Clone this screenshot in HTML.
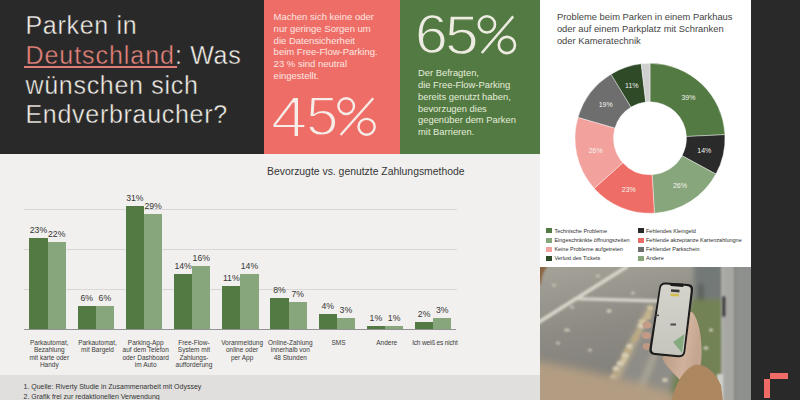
<!DOCTYPE html>
<html><head><meta charset="utf-8"><style>
*{margin:0;padding:0;box-sizing:border-box}
html,body{width:800px;height:400px;overflow:hidden;background:#f1f0ee;font-family:"Liberation Sans",sans-serif}
.abs{position:absolute}
.bar{position:absolute}
.val{position:absolute;font-size:8.7px;line-height:10px;color:#353535;text-align:center;white-space:nowrap}
.cat{position:absolute;top:339.1px;font-size:6.5px;line-height:7.25px;color:#3a3a3a;text-align:center;white-space:nowrap}
.grid{position:absolute;left:24px;width:433px;height:1px;background:#d9d8d6}
.leg{position:absolute;font-size:5.5px;line-height:7px;color:#2e2e2e;white-space:nowrap}
.sq{position:absolute;width:5.7px;height:5.2px}
</style></head><body>
<div class="abs" style="left:0;top:0;width:264px;height:154px;background:#292929"></div>
<div class="abs" style="left:264px;top:0;width:136px;height:154px;background:#ee6e67"></div>
<div class="abs" style="left:400px;top:0;width:140px;height:154px;background:#527a42"></div>
<div class="abs" style="left:0;top:375px;width:540px;height:25px;background:#e0dfde"></div>
<div class="abs" style="left:540px;top:0;width:211px;height:267px;background:#fff"></div>
<div class="abs" style="left:751px;top:0;width:49px;height:400px;background:#292929"></div>

<!-- title -->
<div class="abs" style="left:25.5px;top:11.3px;font-size:25px;line-height:29.7px;letter-spacing:0.7px;color:#f3efe8;-webkit-text-stroke:0.4px #292929;white-space:nowrap">Parken in<br><span style="color:#e8847c;letter-spacing:0.95px">Deutschland</span>: Was<br>wünschen sich<br>Endverbraucher?</div>

<div class="abs" style="left:24px;top:66.3px;width:153px;height:1.5px;background:#df7f78"></div>
<!-- red panel -->
<div class="abs" style="left:273.6px;top:11px;font-size:9.5px;line-height:11.8px;color:#fde6e1;white-space:nowrap">Machen sich keine oder<br>nur geringe Sorgen um<br>die Datensicherheit<br>beim Free-Flow-Parking.<br>23 % sind neutral<br>eingestellt.</div>
<div class="abs" style="left:271.30px;top:87.68px;font-size:58.24px;line-height:58.24px;color:#f6ece8;-webkit-text-stroke:1.8px #ee6e67;transform:scaleX(1.118);transform-origin:0 0">4</div><div class="abs" style="left:305.87px;top:88.19px;font-size:56.29px;line-height:56.29px;color:#f6ece8;-webkit-text-stroke:1.8px #ee6e67;transform:scaleX(1.036);transform-origin:0 0">5</div>

<svg class="abs" style="left:0;top:0" width="540" height="154" viewBox="0 0 540 154">
<g fill="none" stroke="#f6ece8">
<ellipse cx="346.2" cy="106.1" rx="7.8" ry="7.9" stroke-width="2.4"/>
<ellipse cx="366.6" cy="126.8" rx="8.1" ry="7.9" stroke-width="2.4"/>
<line x1="373.2" y1="98.2" x2="340.6" y2="135" stroke-width="2.3"/>
</g>
<g fill="none" stroke="#eeece2">
<ellipse cx="486.9" cy="24.4" rx="8.1" ry="8.1" stroke-width="2.6"/>
<ellipse cx="506.9" cy="45" rx="8.1" ry="8.1" stroke-width="2.6"/>
<line x1="513.2" y1="16.4" x2="481.8" y2="53" stroke-width="2.5"/>
</g>
</svg>
<!-- green panel -->
<div class="abs" style="left:414.51px;top:6.35px;font-size:56.34px;line-height:56.34px;color:#eeece2;-webkit-text-stroke:1.3px #527a42;transform:scaleX(1.044);transform-origin:0 0">6</div><div class="abs" style="left:444.58px;top:6.76px;font-size:55.86px;line-height:55.86px;color:#eeece2;-webkit-text-stroke:1.3px #527a42;transform:scaleX(1.082);transform-origin:0 0">5</div>
<div class="abs" style="left:418px;top:66.8px;font-size:9.4px;line-height:11.9px;color:#e6eddc;white-space:nowrap">Der Befragten,<br>die Free-Flow-Parking<br>bereits genutzt haben,<br>bevorzugen dies<br>gegenüber dem Parken<br>mit Barrieren.</div>

<!-- bar chart -->
<div class="abs" style="left:267px;top:165.8px;font-size:10.4px;line-height:12px;color:#363636;white-space:nowrap">Bevorzugte vs. genutzte Zahlungsmethode</div>
<div class="grid" style="top:209px"></div>
<div class="grid" style="top:249px"></div>
<div class="grid" style="top:289px"></div>
<div class="bar" style="left:29.40px;top:237.50px;width:18.2px;height:92px;background:#527a42"></div><div class="val" style="left:19.40px;top:224.53px;width:38.2px">23%</div><div class="bar" style="left:47.60px;top:241.50px;width:18.2px;height:88px;background:#88a67b"></div><div class="val" style="left:37.60px;top:228.53px;width:38.2px">22%</div><div class="cat" style="left:25.20px;width:48.2px">Parkautomat,<br>Bezahlung<br>mit karte oder<br>Handy</div><div class="bar" style="left:77.60px;top:305.50px;width:18.2px;height:24px;background:#527a42"></div><div class="val" style="left:67.60px;top:292.53px;width:38.2px">6%</div><div class="bar" style="left:95.80px;top:305.50px;width:18.2px;height:24px;background:#88a67b"></div><div class="val" style="left:85.80px;top:292.53px;width:38.2px">6%</div><div class="cat" style="left:73.40px;width:48.2px">Parkautomat,<br>mit Bargeld</div><div class="bar" style="left:125.80px;top:205.50px;width:18.2px;height:124px;background:#527a42"></div><div class="val" style="left:115.80px;top:192.53px;width:38.2px">31%</div><div class="bar" style="left:144.00px;top:213.50px;width:18.2px;height:116px;background:#88a67b"></div><div class="val" style="left:134.00px;top:200.53px;width:38.2px">29%</div><div class="cat" style="left:121.60px;width:48.2px">Parking-App<br>auf dem Telefon<br>oder Dashboard<br>im Auto</div><div class="bar" style="left:174.00px;top:273.50px;width:18.2px;height:56px;background:#527a42"></div><div class="val" style="left:164.00px;top:260.53px;width:38.2px">14%</div><div class="bar" style="left:192.20px;top:265.50px;width:18.2px;height:64px;background:#88a67b"></div><div class="val" style="left:182.20px;top:252.53px;width:38.2px">16%</div><div class="cat" style="left:169.80px;width:48.2px">Free-Flow-<br>System mit<br>Zahlungs-<br>aufforderung</div><div class="bar" style="left:222.20px;top:285.50px;width:18.2px;height:44px;background:#527a42"></div><div class="val" style="left:212.20px;top:272.53px;width:38.2px">11%</div><div class="bar" style="left:240.40px;top:273.50px;width:18.2px;height:56px;background:#88a67b"></div><div class="val" style="left:230.40px;top:260.53px;width:38.2px">14%</div><div class="cat" style="left:218.00px;width:48.2px">Voranmeldung<br>online oder<br>per App</div><div class="bar" style="left:270.40px;top:297.50px;width:18.2px;height:32px;background:#527a42"></div><div class="val" style="left:260.40px;top:284.53px;width:38.2px">8%</div><div class="bar" style="left:288.60px;top:301.50px;width:18.2px;height:28px;background:#88a67b"></div><div class="val" style="left:278.60px;top:288.53px;width:38.2px">7%</div><div class="cat" style="left:266.20px;width:48.2px">Online-Zahlung<br>innerhalb von<br>48 Stunden</div><div class="bar" style="left:318.60px;top:313.50px;width:18.2px;height:16px;background:#527a42"></div><div class="val" style="left:308.60px;top:300.53px;width:38.2px">4%</div><div class="bar" style="left:336.80px;top:317.50px;width:18.2px;height:12px;background:#88a67b"></div><div class="val" style="left:326.80px;top:304.53px;width:38.2px">3%</div><div class="cat" style="left:314.40px;width:48.2px">SMS</div><div class="bar" style="left:366.80px;top:325.50px;width:18.2px;height:4px;background:#527a42"></div><div class="val" style="left:356.80px;top:312.53px;width:38.2px">1%</div><div class="bar" style="left:385.00px;top:325.50px;width:18.2px;height:4px;background:#88a67b"></div><div class="val" style="left:375.00px;top:312.53px;width:38.2px">1%</div><div class="cat" style="left:362.60px;width:48.2px">Andere</div><div class="bar" style="left:415.00px;top:321.50px;width:18.2px;height:8px;background:#527a42"></div><div class="val" style="left:405.00px;top:308.53px;width:38.2px">2%</div><div class="bar" style="left:433.20px;top:317.50px;width:18.2px;height:12px;background:#88a67b"></div><div class="val" style="left:423.20px;top:304.53px;width:38.2px">3%</div><div class="cat" style="left:410.80px;width:48.2px;letter-spacing:-0.17px">Ich weiß es nicht</div>
<div class="abs" style="left:24px;top:329px;width:432px;height:1.2px;background:#939393"></div>

<!-- footer -->
<div class="abs" style="left:23.5px;top:382.2px;font-size:7px;line-height:9.7px;color:#333;white-space:nowrap">1. Quelle: Riverty Studie in Zusammenarbeit mit Odyssey<br>2. Grafik frei zur redaktionellen Verwendung</div>

<!-- donut card -->
<div class="abs" style="left:556.9px;top:11px;font-size:9.4px;line-height:11.75px;color:#444;white-space:nowrap">Probleme beim Parken in einem Parkhaus<br>oder auf einem Parkplatz mit Schranken<br>oder Kameratechnik</div>
<svg class="abs" style="left:0;top:0" width="800" height="400" viewBox="0 0 800 400">
<g font-family="Liberation Sans" font-size="7" fill="#f2f2ee">
<path d="M650.00,63.30 A75,75 0 0 1 724.91,134.64 L686.46,136.52 A36.5,36.5 0 0 0 650.00,101.80 Z" fill="#527a42" stroke="#fff" stroke-width="0.4"/>
<text x="688.45" y="100.43" text-anchor="middle">39%</text>
<path d="M724.91,134.64 A75,75 0 0 1 715.91,174.10 L682.07,155.72 A36.5,36.5 0 0 0 686.46,136.52 Z" fill="#2a2a2a" stroke="#fff" stroke-width="0.4"/>
<text x="704.35" y="153.21" text-anchor="middle">14%</text>
<path d="M715.91,174.10 A75,75 0 0 1 654.39,213.17 L652.14,174.74 A36.5,36.5 0 0 0 682.07,155.72 Z" fill="#88a67b" stroke="#fff" stroke-width="0.4"/>
<text x="679.89" y="187.86" text-anchor="middle">26%</text>
<path d="M654.39,213.17 A75,75 0 0 1 594.20,188.41 L622.84,162.69 A36.5,36.5 0 0 0 652.14,174.74 Z" fill="#ee6e67" stroke="#fff" stroke-width="0.4"/>
<text x="628.79" y="192.36" text-anchor="middle">23%</text>
<path d="M594.20,188.41 A75,75 0 0 1 577.98,117.36 L614.95,128.11 A36.5,36.5 0 0 0 622.84,162.69 Z" fill="#f2a19c" stroke="#fff" stroke-width="0.4"/>
<text x="595.65" y="153.21" text-anchor="middle">26%</text>
<path d="M577.98,117.36 A75,75 0 0 1 611.03,74.22 L631.04,107.11 A36.5,36.5 0 0 0 614.95,128.11 Z" fill="#6e6e6e" stroke="#fff" stroke-width="0.4"/>
<text x="605.74" y="106.90" text-anchor="middle">19%</text>
<path d="M611.03,74.22 A75,75 0 0 1 641.24,63.81 L645.74,102.05 A36.5,36.5 0 0 0 631.04,107.11 Z" fill="#2f4a27" stroke="#fff" stroke-width="0.4"/>
<text x="631.84" y="88.09" text-anchor="middle">11%</text>
<path d="M641.24,63.81 A75,75 0 0 1 650.00,63.30 L650.00,101.80 A36.5,36.5 0 0 0 645.74,102.05 Z" fill="#cfcfcf" stroke="#fff" stroke-width="0.4"/>
</g>
</svg>
<!-- legend -->
<div class="sq" style="left:546.2px;top:228px;background:#527a42"></div>
<div class="sq" style="left:546.2px;top:237.5px;background:#88a67b"></div>
<div class="sq" style="left:546.2px;top:246.6px;background:#f2a19c"></div>
<div class="sq" style="left:546.2px;top:255.6px;background:#2f4a27"></div>
<div class="sq" style="left:638.2px;top:228px;background:#2a2a2a"></div>
<div class="sq" style="left:638.2px;top:237.5px;background:#ee6e67"></div>
<div class="sq" style="left:638.2px;top:246.6px;background:#6e6e6e"></div>
<div class="sq" style="left:638.2px;top:255.6px;background:#88a67b"></div>
<div class="leg" style="left:554.4px;top:227.6px">Technische Probleme</div>
<div class="leg" style="left:554.4px;top:237.1px">Eingeschränkte öffnungszeiten</div>
<div class="leg" style="left:554.4px;top:246.2px">Keine Probleme aufgetreten</div>
<div class="leg" style="left:554.4px;top:255.2px">Verlust des Tickets</div>
<div class="leg" style="left:646px;top:227.6px">Fehlendes Kleingeld</div>
<div class="leg" style="left:646px;top:237.1px">Fehlende akzeptanze Kartenzahlungne</div>
<div class="leg" style="left:646px;top:246.2px">Fehlender Parkschein</div>
<div class="leg" style="left:646px;top:255.2px">Andere</div>

<!-- photo -->
<svg class="abs" style="left:540px;top:267px" width="211" height="133" viewBox="540 267 211 133">
<defs>
<filter id="b1" x="-20%" y="-20%" width="140%" height="140%"><feGaussianBlur stdDeviation="2.5"/></filter>
<filter id="b4" x="-30%" y="-30%" width="160%" height="160%"><feGaussianBlur stdDeviation="4"/></filter>
<filter id="b2" x="-20%" y="-20%" width="140%" height="140%"><feGaussianBlur stdDeviation="1.1"/></filter>
<filter id="b3" x="-50%" y="-50%" width="200%" height="200%"><feGaussianBlur stdDeviation="0.5"/></filter>
<linearGradient id="skin" x1="0" y1="0" x2="1" y2="0.3"><stop offset="0" stop-color="#b39480"/><stop offset="0.7" stop-color="#d0b29c"/><stop offset="1" stop-color="#c4a58f"/></linearGradient>
<linearGradient id="scr" x1="0" y1="0" x2="0" y2="1"><stop offset="0" stop-color="#d5d4cc"/><stop offset="1" stop-color="#c6c5bd"/></linearGradient>
<linearGradient id="asph" x1="0" y1="0" x2="0.3" y2="1"><stop offset="0" stop-color="#a5a299"/><stop offset="0.5" stop-color="#8c8a83"/><stop offset="1" stop-color="#7f7d77"/></linearGradient>
</defs>
<rect x="540" y="267" width="211" height="133" fill="url(#asph)"/>
<g filter="url(#b1)">
<polygon points="655,292 692,292 676,400 612,400" fill="#8f8d87"/>
<polygon points="692,298 724,298 724,400 668,400" fill="#728254"/>
<rect x="694" y="262" width="30" height="37" fill="#737977"/>
<rect x="699" y="284" width="4" height="16" fill="#4e524e"/>

<polygon points="662,330 667,330 640,400 632,400" fill="#a9a596"/>
<polygon points="649,305 654,305 618,382 609,382" fill="#b9ad90"/>
</g>
<g filter="url(#b2)">
<rect x="721" y="262" width="35" height="145" fill="#8e908d"/>
<rect x="721" y="262" width="14" height="145" fill="#a7a8a4"/>
<rect x="721" y="262" width="3" height="145" fill="#adaea9"/>
<rect x="734" y="262" width="1.5" height="145" fill="#7e807d"/>
<line x1="628" y1="266" x2="536" y2="324" stroke="#d9d5cb" stroke-width="3.8"/>
<line x1="574" y1="298.7" x2="660" y2="301" stroke="#d6d2c8" stroke-width="3.3"/>
<rect x="722" y="296" width="3.5" height="21" rx="1.5" fill="#333"/>
<rect x="717" y="374" width="6" height="30" fill="#cfd0cc"/>
<ellipse cx="554" cy="285" rx="2" ry="1.5" fill="#c9c3b5"/>
<ellipse cx="598" cy="276" rx="2" ry="1.5" fill="#c9c3b5"/>
<ellipse cx="609" cy="311" rx="2.5" ry="2" fill="#cfc8b8"/>
<ellipse cx="572" cy="307" rx="2" ry="1.5" fill="#c9c3b5"/>
<ellipse cx="567" cy="330" rx="3" ry="1.5" fill="#cdc5b4"/>
<ellipse cx="633" cy="293" rx="2" ry="1.5" fill="#c9c3b5"/>
<ellipse cx="558" cy="343" rx="2" ry="1.5" fill="#c9c3b5"/>
<ellipse cx="590" cy="350" rx="2" ry="1.5" fill="#c9c3b5"/>
<ellipse cx="711" cy="330" rx="2" ry="1.5" fill="#d5d2c0"/>
<ellipse cx="706" cy="348" rx="2.5" ry="1.5" fill="#d5d2c0"/>
<ellipse cx="665" cy="380" rx="3" ry="2" fill="#d0c8b2"/>
</g>
<g filter="url(#b2)"><ellipse cx="650.2" cy="308.1" rx="3.1" ry="2.6" fill="#cfc19c"/><ellipse cx="648.7" cy="313.5" rx="3.2" ry="2.6" fill="#c4b48c"/><ellipse cx="647.3" cy="317.3" rx="3.8" ry="2.5" fill="#c4b48c"/><ellipse cx="642.4" cy="321.3" rx="3.9" ry="2.4" fill="#cfc19c"/><ellipse cx="641.1" cy="325.8" rx="3.6" ry="2.6" fill="#d6cbb0"/><ellipse cx="638.8" cy="332.0" rx="2.9" ry="2.6" fill="#bba982"/><ellipse cx="636.0" cy="336.8" rx="3.1" ry="2.8" fill="#bba982"/><ellipse cx="634.2" cy="339.9" rx="3.0" ry="2.0" fill="#bba982"/><ellipse cx="629.4" cy="346.3" rx="3.2" ry="2.6" fill="#d6cbb0"/><ellipse cx="627.4" cy="350.7" rx="3.4" ry="2.5" fill="#bba982"/><ellipse cx="625.3" cy="355.5" rx="3.5" ry="2.9" fill="#d6cbb0"/><ellipse cx="623.9" cy="359.7" rx="2.7" ry="2.9" fill="#cfc19c"/><ellipse cx="620.4" cy="363.4" rx="3.7" ry="2.6" fill="#d6cbb0"/><ellipse cx="616.1" cy="368.6" rx="3.5" ry="2.5" fill="#d6cbb0"/><ellipse cx="615.5" cy="373.2" rx="2.7" ry="2.3" fill="#bba982"/><ellipse cx="613.1" cy="377.1" rx="3.4" ry="2.0" fill="#d6cbb0"/></g>
<g filter="url(#b2)"><path d="M538,265 L549,265 C544,269 542,275 541,284 L538,284 Z" fill="#8a6440"/></g>
<g filter="url(#b4)">
<path d="M525,359 C575,367 625,379 670,392 L690,410 L525,410 Z" fill="#b29d82"/>

</g>
<g filter="url(#b3)">
<path d="M662,358 C672,350 680,338 686,320 C687,313 690,310 693,313 C697,318 700,328 701,340 C702,350 702,360 700,368 L680,380 C672,372 666,366 662,358 Z" fill="url(#skin)"/>
<ellipse cx="647" cy="325" rx="4.5" ry="3.6" fill="#c39b87"/>
<ellipse cx="646.5" cy="335.5" rx="4.5" ry="3.6" fill="#c39b87"/>
<ellipse cx="647" cy="346.5" rx="4.2" ry="3.4" fill="#bf9883"/>
<path d="M671,402 C674,390 680,372 694,365 C704,363 714,370 721,385 L723,402 Z" fill="#ac8761"/>
</g>
<g filter="url(#b3)">
<path d="M659.06,288.13 Q660.00,282.20 665.99,282.61 L687.81,284.09 Q693.80,284.50 693.04,290.45 L685.26,351.85 Q684.50,357.80 678.53,357.25 L654.47,355.05 Q648.50,354.50 649.44,348.57 Z" fill="#1c1c1c"/>
<path d="M660.68,288.72 Q661.35,284.27 665.83,284.59 L686.77,286.11 Q691.26,286.44 690.73,290.91 L683.56,351.24 Q683.03,355.71 678.55,355.27 L655.65,353.03 Q651.17,352.59 651.83,348.14 Z" fill="url(#scr)"/>
<path d="M670.14,282.89 L683.66,283.81 L683.26,287.01 L670.54,285.89 Z" fill="#1c1c1c"/>
<rect x="671" y="289.5" width="8.5" height="2.6" fill="#3b3a35" transform="rotate(4 675 291)"/>
<rect x="670.5" y="293.6" width="8.5" height="2.6" fill="#d3bd52" transform="rotate(4 675 295)"/>
<polygon points="673,342 684.5,334 682,353" fill="#86aa80"/>
<rect x="655.5" y="314.5" width="3.5" height="1.6" fill="#4a4a4a"/>
<rect x="670.5" y="323.5" width="5.5" height="2" fill="#4a4a4a"/>
</g>
</svg>

<!-- logo -->
<div class="abs" style="left:770px;top:373.3px;width:18.3px;height:5.5px;background:#f06a66"></div>
<div class="abs" style="left:764.2px;top:378.8px;width:5.6px;height:19px;background:#f06a66"></div>
</body></html>
